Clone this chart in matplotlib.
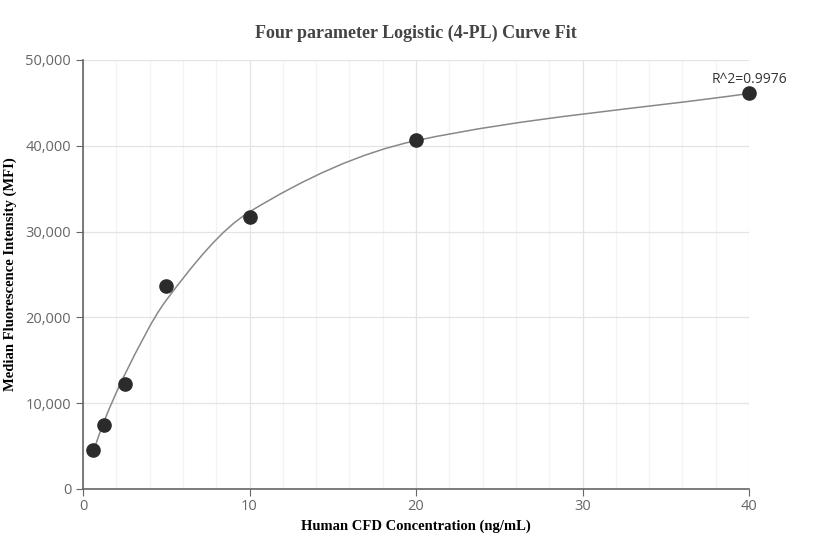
import matplotlib
matplotlib.use('Agg')
import matplotlib.pyplot as plt
from matplotlib.path import Path
from matplotlib.patches import PathPatch
from matplotlib.ticker import FuncFormatter, MultipleLocator
import numpy as np

conc = [0.625, 1.25, 2.5, 5, 10, 20, 40]
mfi = [4550, 7500, 12250, 23650, 31700, 40700, 46150]
fit_mfi = [4400, 7800, 13300, 22000, 32300, 40600, 46100]
r2_text = 'R^2=0.9976'

fig = plt.figure(figsize=(8.32, 5.6), dpi=100)
ax = fig.add_axes([83 / 832, 1 - 489 / 560, (749 - 83) / 832, (489 - 60) / 560])

# smooth monotone curve through the fitted values (bezier path)
xs = np.array(conc, dtype=float)
ys = np.array(fit_mfi, dtype=float)
d = np.diff(ys) / np.diff(xs)
m = np.zeros_like(ys)
m[0], m[-1] = d[0], d[-1]
for i in range(1, len(xs) - 1):
    if d[i - 1] * d[i] > 0:
        m[i] = 2 / (1 / d[i - 1] + 1 / d[i])
verts = [(xs[0], ys[0])]
codes = [Path.MOVETO]
for i in range(len(xs) - 1):
    h = xs[i + 1] - xs[i]
    verts += [(xs[i] + h / 3, ys[i] + m[i] * h / 3),
              (xs[i + 1] - h / 3, ys[i + 1] - m[i + 1] * h / 3),
              (xs[i + 1], ys[i + 1])]
    codes += [Path.CURVE4] * 3
ax.add_patch(PathPatch(Path(verts, codes), fill=False, edgecolor='#888888', lw=1.1, zorder=3))

ax.plot(conc, mfi, 'o', color='#2b2b2b', markersize=9.5, zorder=4, clip_on=False)
ax.annotate(r2_text, (conc[-1], mfi[-1]), xytext=(0, 4), textcoords='offset points',
            ha='center', va='bottom', fontsize=10, color='#333333', family='Open Sans')

ax.set_xlim(0, 40)
ax.set_ylim(0, 50000)
ax.xaxis.set_major_locator(MultipleLocator(10))
ax.xaxis.set_minor_locator(MultipleLocator(2))
ax.yaxis.set_major_locator(MultipleLocator(10000))
ax.yaxis.set_major_formatter(FuncFormatter(lambda v, p: f'{int(v):,}'))
ax.grid(which='major', color='#e3e3e8', lw=0.9)
ax.grid(which='minor', axis='x', color='#f3f3f6', lw=0.9)
ax.set_axisbelow(True)
for s in ['top', 'right']:
    ax.spines[s].set_visible(False)
for s in ['left', 'bottom']:
    ax.spines[s].set_color('#666666')
    ax.spines[s].set_linewidth(1.2)
ax.tick_params(which='major', length=5, color='#666666', labelsize=10.5, labelcolor='#666666')
ax.tick_params(axis='x', which='major', pad=2)
ax.tick_params(which='minor', length=0)
for lab in ax.get_xticklabels() + ax.get_yticklabels():
    lab.set_family('Open Sans')

fig.text(416 / 832, 1 - 526 / 560, 'Human CFD Concentration (ng/mL)', ha='center', va='center',
         fontsize=10.5, fontweight='bold', family='Liberation Serif')
fig.text(10 / 832, 1 - 274 / 560, 'Median Fluorescence Intensity (MFI)', ha='center', va='center',
         rotation=90, fontsize=10.5, fontweight='bold', family='Liberation Serif')
fig.text(0.5, 1 - 33 / 560, 'Four parameter Logistic (4-PL) Curve Fit', ha='center', va='center',
         fontsize=13, fontweight='bold', family='Liberation Serif', color='#444444')

fig.savefig('out.png', dpi=100)
